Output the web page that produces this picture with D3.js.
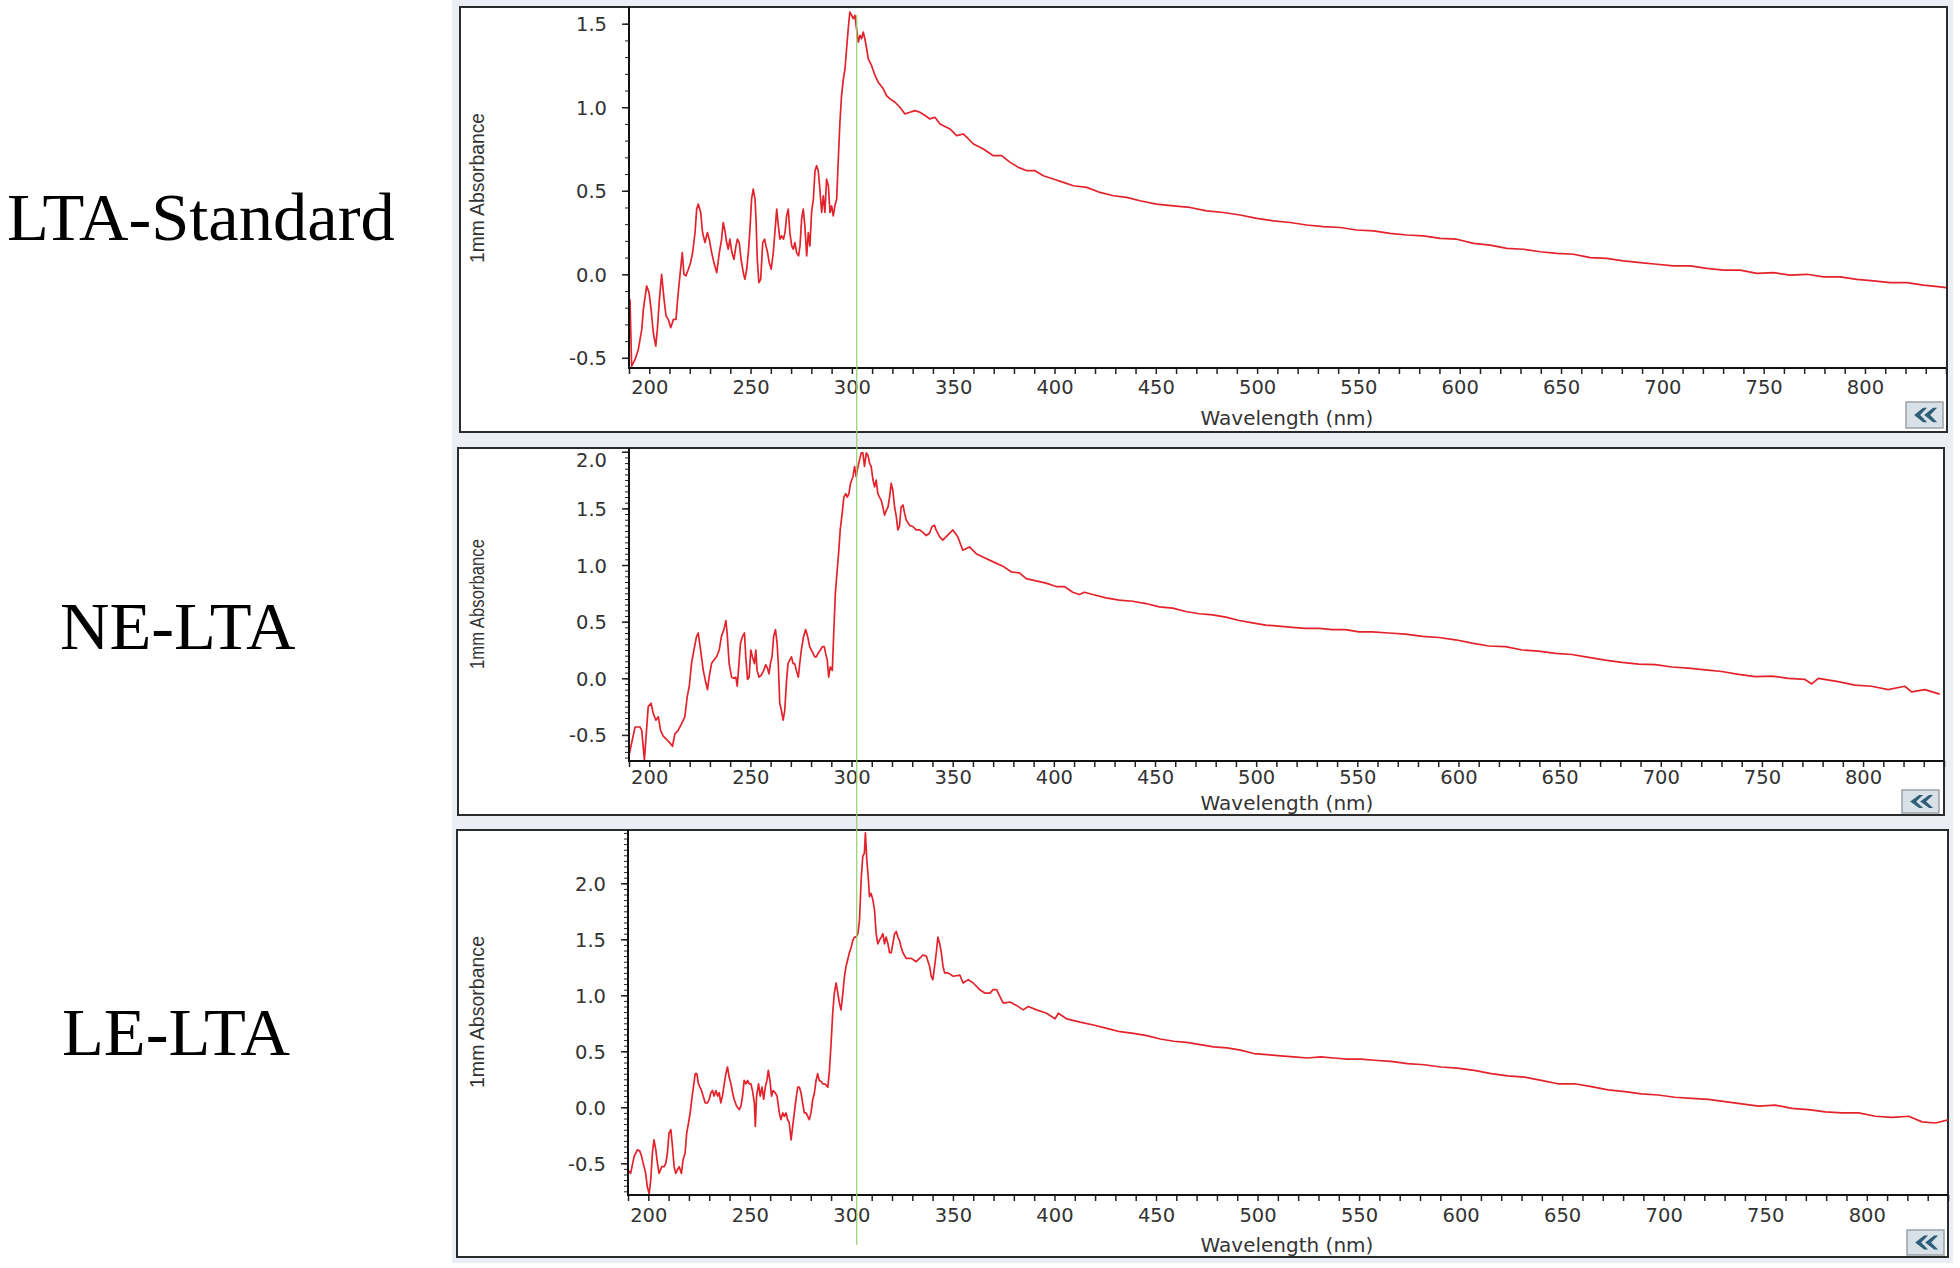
<!DOCTYPE html>
<html>
<head>
<meta charset="utf-8">
<script src="https://cdn.jsdelivr.net/npm/d3@7"></script>
<style>
  body { margin: 0; background: #fff; }
  .tick text { font-family: 'DejaVu Sans', sans-serif; fill: #333; }
</style>
</head>
<body>
<div id="chart"></div>
<script>
// spectra: wavelength (nm) and 1 mm absorbance
var sampleNames = ['LTA-Standard', 'NE-LTA', 'LE-LTA'];

var wlStd = [190.5,191.3,193.0,194.6,196.3,197.1,198.7,199.9,200.9,202.0,203.2,204.0,205.0,206.1,207.3,208.3,209.4,210.6,211.9,213.2,214.0,215.2,216.3,217.1,218.1,219.3,220.4,221.4,222.6,223.4,224.2,225.4,226.3,227.5,228.7,229.6,230.8,231.9,233.3,234.6,235.7,236.5,237.5,238.2,239.0,239.8,240.8,241.8,242.8,243.5,244.4,245.3,246.4,247.2,248.1,248.9,249.7,250.5,251.3,252.2,252.7,253.3,254.1,255.0,256.0,256.9,257.6,258.4,259.2,260.2,261.2,262.0,262.9,263.7,264.5,265.3,266.2,267.0,267.8,268.6,269.4,270.3,271.1,271.9,272.7,273.7,274.4,275.2,276.0,276.8,277.7,278.5,279.3,280.1,281.0,281.8,282.6,283.4,284.2,285.1,285.9,286.7,287.5,288.4,289.2,290.0,290.8,291.6,292.5,293.3,294.1,294.9,295.8,296.6,297.4,298.2,299.0,299.9,300.7,301.5,302.3,303.2,304.0,304.8,305.6,306.4,307.3,308.1,308.9,309.7,311.4,313.0,315.5,317.1,318.8,321.3,323.7,326.2,328.7,331.1,333.6,336.1,338.5,341.0,343.5,348.4,351.7,355.0,360.0,364.9,369.8,373.9,378.1,382.2,386.3,390.4,394.5,399.4,404.4,409.3,415.9,422.5,429.1,435.6,442.2,450.4,458.7,466.9,475.1,483.3,491.6,499.8,508.0,516.3,524.5,532.7,541.0,549.2,557.4,565.6,573.8,582.1,590.3,598.5,606.8,615.0,623.2,631.5,639.7,647.9,656.1,664.4,672.6,680.8,689.1,697.3,705.5,713.7,722.0,730.2,738.4,746.7,754.9,763.1,771.3,779.6,787.8,796.0,804.2,812.5,820.7,828.9,837.1,840.4];
var absStd = [-0.15,-0.55,-0.51,-0.45,-0.33,-0.21,-0.07,-0.11,-0.21,-0.35,-0.43,-0.33,-0.15,0.0,-0.15,-0.25,-0.27,-0.32,-0.27,-0.27,-0.15,0.0,0.13,0.0,-0.01,0.03,0.07,0.13,0.25,0.39,0.42,0.37,0.25,0.19,0.25,0.21,0.13,0.07,0.01,0.13,0.21,0.31,0.25,0.19,0.15,0.21,0.13,0.09,0.17,0.21,0.19,0.09,0.01,-0.03,0.03,0.13,0.27,0.45,0.51,0.45,0.33,0.09,-0.05,-0.03,0.19,0.21,0.17,0.13,0.07,0.03,0.13,0.25,0.39,0.29,0.21,0.23,0.21,0.25,0.35,0.39,0.25,0.17,0.15,0.19,0.13,0.11,0.17,0.33,0.39,0.29,0.11,0.25,0.17,0.37,0.45,0.62,0.65,0.62,0.51,0.37,0.47,0.37,0.57,0.53,0.37,0.41,0.35,0.41,0.45,0.69,0.91,1.07,1.17,1.23,1.35,1.47,1.57,1.55,1.53,1.55,1.47,1.39,1.43,1.41,1.45,1.41,1.35,1.29,1.27,1.25,1.19,1.15,1.11,1.07,1.05,1.03,1.00,0.96,0.97,0.98,0.97,0.95,0.93,0.94,0.90,0.87,0.83,0.84,0.78,0.75,0.71,0.71,0.67,0.64,0.62,0.62,0.59,0.57,0.55,0.53,0.52,0.49,0.47,0.46,0.44,0.42,0.41,0.40,0.38,0.37,0.355,0.335,0.32,0.31,0.295,0.285,0.28,0.265,0.26,0.245,0.235,0.23,0.215,0.21,0.185,0.175,0.155,0.15,0.135,0.125,0.12,0.10,0.095,0.08,0.07,0.06,0.05,0.05,0.035,0.025,0.025,0.005,0.01,-0.005,0.0,-0.015,-0.015,-0.03,-0.04,-0.05,-0.05,-0.065,-0.075,-0.08];

var wlNE = [190.0,193.0,195.4,196.3,197.6,199.5,200.9,202.0,203.3,204.5,205.6,206.9,208.6,210.2,211.5,212.7,214.3,216.0,217.6,218.8,219.8,220.9,222.1,223.4,224.2,225.4,226.7,228.0,228.8,229.6,230.8,231.9,233.3,234.6,235.7,236.9,237.9,238.5,239.5,240.7,241.8,242.8,243.5,244.1,245.1,246.1,247.1,247.7,248.6,249.4,250.2,251.0,252.0,252.7,253.3,254.3,255.5,256.6,257.6,258.4,259.2,259.9,260.7,261.5,262.4,263.2,263.8,264.5,265.3,266.2,267.0,267.8,268.6,269.4,270.3,271.1,271.9,272.7,273.7,274.4,275.2,276.3,277.3,278.3,279.3,280.1,281.0,281.8,282.6,283.4,284.6,285.6,286.5,287.2,288.0,288.7,289.5,290.5,291.2,292.0,292.8,293.6,294.4,295.4,296.2,297.1,297.9,298.7,299.5,300.7,301.5,302.3,303.2,304.0,304.8,305.6,306.4,307.3,308.1,308.9,309.7,310.6,311.4,312.2,313.0,313.8,314.7,315.5,316.3,317.1,318.0,318.8,319.6,320.4,321.3,322.1,322.9,323.7,324.5,325.4,326.2,327.0,328.7,330.3,331.9,333.6,335.2,336.9,338.5,339.8,341.0,341.8,343.5,345.1,348.4,350.1,352.5,355.0,358.3,361.6,364.9,369.8,374.8,378.9,383.0,386.3,391.2,396.1,401.1,405.2,409.3,412.6,415.1,419.2,425.8,432.3,438.9,445.5,452.1,458.7,465.2,471.8,478.4,485.0,491.6,498.2,504.7,511.3,517.9,524.5,531.1,537.6,544.2,550.8,557.4,565.6,573.8,582.1,590.3,598.5,606.8,615.0,623.2,631.5,639.7,647.9,656.1,664.4,672.6,680.8,689.1,697.3,705.5,713.7,722.0,730.2,738.4,746.7,754.9,763.1,771.3,774.6,777.9,787.7,796.0,804.2,812.4,820.6,824.0,830.5,837.9];
var absNE = [-0.68,-0.43,-0.43,-0.46,-0.72,-0.25,-0.22,-0.31,-0.37,-0.34,-0.46,-0.51,-0.54,-0.57,-0.60,-0.49,-0.46,-0.40,-0.34,-0.16,-0.07,0.13,0.25,0.37,0.40,0.25,0.07,-0.04,-0.10,0.01,0.13,0.16,0.19,0.25,0.37,0.43,0.51,0.40,0.13,0.01,0.0,0.01,-0.07,0.07,0.31,0.37,0.40,0.19,-0.01,0.01,0.25,0.19,0.13,0.25,0.07,0.01,0.03,0.07,0.12,0.09,0.04,0.13,0.19,0.37,0.43,0.31,0.13,-0.22,-0.28,-0.37,-0.28,-0.04,0.13,0.16,0.19,0.13,0.13,0.07,0.01,0.13,0.25,0.37,0.43,0.37,0.28,0.25,0.22,0.19,0.19,0.22,0.25,0.28,0.28,0.22,0.16,0.01,0.10,0.07,0.40,0.75,0.93,1.10,1.31,1.46,1.60,1.63,1.60,1.63,1.72,1.78,1.87,1.78,1.87,1.93,1.99,1.99,1.87,1.99,1.97,1.90,1.87,1.75,1.69,1.75,1.63,1.60,1.57,1.51,1.44,1.48,1.51,1.60,1.72,1.66,1.51,1.43,1.31,1.34,1.51,1.53,1.46,1.40,1.35,1.34,1.31,1.31,1.29,1.26,1.28,1.34,1.35,1.31,1.25,1.22,1.28,1.31,1.25,1.13,1.16,1.10,1.07,1.03,0.99,0.94,0.93,0.88,0.86,0.84,0.81,0.81,0.76,0.74,0.76,0.74,0.71,0.69,0.68,0.66,0.63,0.62,0.59,0.57,0.56,0.54,0.51,0.49,0.47,0.46,0.45,0.44,0.44,0.43,0.43,0.41,0.41,0.40,0.39,0.37,0.36,0.34,0.31,0.285,0.28,0.25,0.24,0.22,0.21,0.185,0.16,0.14,0.125,0.12,0.10,0.09,0.075,0.06,0.035,0.015,0.02,0.0,-0.01,-0.05,0.0,-0.03,-0.06,-0.07,-0.10,-0.07,-0.12,-0.10,-0.14];

var wlLE = [190.0,191.3,193.0,194.6,195.8,196.7,197.9,198.7,199.5,200.4,201.2,202.0,202.8,203.7,204.5,205.3,206.6,207.8,208.6,209.4,210.2,211.1,211.9,212.7,213.5,214.3,215.2,216.3,217.1,218.1,218.9,219.8,220.6,221.4,222.2,223.1,223.9,224.7,225.4,226.2,227.0,228.0,229.1,230.0,230.8,231.6,232.4,233.3,234.1,234.9,235.7,236.5,237.4,238.2,239.0,239.8,240.7,241.5,242.3,243.5,244.8,245.6,246.4,247.2,248.1,248.9,249.7,250.5,251.3,252.2,252.7,253.3,254.3,255.1,256.0,256.8,257.6,258.4,259.1,259.9,260.7,261.5,262.5,263.4,264.5,265.3,266.2,267.0,267.8,268.6,269.4,270.3,271.1,271.9,272.7,273.6,274.4,275.2,276.0,276.8,277.7,278.5,279.3,280.1,281.0,281.8,282.6,283.4,284.2,285.1,285.9,286.7,287.5,288.4,289.2,290.0,290.8,291.6,292.5,293.3,294.1,294.9,295.8,296.6,297.4,298.2,299.0,299.9,300.7,301.5,302.3,303.2,304.0,304.8,305.6,306.4,306.9,307.6,308.4,308.9,309.7,310.6,311.4,312.2,313.0,313.8,314.7,315.5,316.3,317.1,318.0,318.8,319.6,320.4,321.3,322.1,322.9,323.7,324.5,325.4,327.0,329.5,331.9,333.6,335.2,336.9,338.5,339.3,340.1,341.0,341.8,342.6,343.5,344.3,345.1,345.9,347.6,350.1,353.4,355.0,357.5,360.0,363.2,365.7,368.2,369.8,371.5,373.1,374.8,378.1,381.3,384.6,387.1,391.2,396.1,400.3,401.9,406.0,412.6,419.2,425.8,432.3,438.9,445.5,452.1,458.7,465.2,471.8,478.4,485.0,491.6,498.2,504.7,511.3,517.9,524.5,531.1,537.6,544.2,550.8,557.4,565.6,573.8,582.1,590.3,598.5,606.8,615.0,623.2,631.5,639.7,647.9,656.1,664.4,672.6,680.8,689.1,697.3,705.5,713.7,722.0,730.2,738.4,746.7,754.9,763.1,771.3,779.6,787.8,796.0,804.2,812.5,820.7,827.2,833.8,840.4];
var absLE = [-0.56,-0.59,-0.44,-0.38,-0.39,-0.44,-0.53,-0.59,-0.71,-0.77,-0.65,-0.41,-0.29,-0.38,-0.50,-0.59,-0.53,-0.53,-0.50,-0.41,-0.23,-0.20,-0.35,-0.53,-0.59,-0.56,-0.53,-0.59,-0.47,-0.41,-0.23,-0.14,-0.05,0.07,0.18,0.30,0.30,0.21,0.18,0.15,0.10,0.04,0.04,0.07,0.13,0.15,0.10,0.15,0.10,0.13,0.04,0.10,0.21,0.30,0.36,0.27,0.21,0.13,0.07,0.01,-0.02,0.01,0.10,0.24,0.21,0.24,0.21,0.21,0.15,0.04,-0.17,0.10,0.21,0.10,0.18,0.07,0.18,0.24,0.33,0.24,0.10,0.15,0.13,0.10,-0.05,-0.11,-0.05,-0.08,-0.05,-0.11,-0.14,-0.29,-0.17,-0.05,0.07,0.18,0.18,0.13,0.04,-0.05,-0.05,-0.08,-0.11,-0.05,0.07,0.13,0.24,0.30,0.24,0.23,0.21,0.21,0.20,0.18,0.33,0.57,0.84,1.02,1.11,1.02,0.93,0.87,1.02,1.17,1.26,1.32,1.38,1.43,1.49,1.52,1.52,1.55,1.67,2.03,2.24,2.27,2.45,2.21,2.03,1.88,1.91,1.85,1.76,1.55,1.46,1.49,1.52,1.55,1.46,1.52,1.46,1.38,1.38,1.46,1.55,1.57,1.52,1.49,1.43,1.38,1.33,1.33,1.30,1.33,1.36,1.35,1.26,1.17,1.14,1.26,1.38,1.52,1.46,1.38,1.26,1.20,1.20,1.17,1.18,1.11,1.14,1.11,1.05,1.02,1.02,1.05,1.05,0.99,0.93,0.94,0.91,0.87,0.90,0.87,0.84,0.79,0.84,0.79,0.76,0.735,0.705,0.675,0.66,0.64,0.61,0.59,0.58,0.56,0.54,0.53,0.51,0.48,0.47,0.46,0.45,0.44,0.45,0.44,0.43,0.43,0.42,0.41,0.39,0.38,0.36,0.35,0.33,0.30,0.28,0.27,0.24,0.21,0.21,0.185,0.155,0.14,0.12,0.11,0.09,0.08,0.07,0.05,0.03,0.01,0.02,-0.01,-0.02,-0.04,-0.05,-0.05,-0.08,-0.09,-0.08,-0.13,-0.14,-0.11];

var wlDomain = [190, 840];
var xTicks = d3.range(190, 841, 10);
var yTicksStd = [-0.5, 0.0, 0.5, 1.0, 1.5];
var yTicksNE = [-0.5, 0.0, 0.5, 1.0, 1.5, 2.0];
var yTicksLE = [-0.5, 0.0, 0.5, 1.0, 1.5, 2.0];
var markerWl = 302.4;

// panel placement (pixels)
var panels = [
  { name: sampleNames[0], wl: wlStd, abs: absStd, ticks: yTicksStd, minorStep: 0.1,
    yDomain: [-0.561, 1.60], frame: [460, 7, 1947, 432], plot: [629, 7, 1946, 368],
    labelX: 7, labelY: 240, titleLen: 150, titleCy: 188, xPad: 6.5, wlTitleY: 425, btn: [1906, 402, 37, 26] },
  { name: sampleNames[1], wl: wlNE, abs: absNE, ticks: yTicksNE, minorStep: 0.05,
    yDomain: [-0.73, 2.033], frame: [458, 448, 1944, 815], plot: [629, 448, 1944, 761],
    labelX: 60, labelY: 649, titleLen: 130, titleCy: 604, xPad: 3.5, wlTitleY: 810, btn: [1902, 790, 37, 23] },
  { name: sampleNames[2], wl: wlLE, abs: absLE, ticks: yTicksLE, minorStep: 0.05,
    yDomain: [-0.783, 2.476], frame: [457, 830, 1948, 1257], plot: [628, 830, 1948, 1195],
    labelX: 62, labelY: 1055, titleLen: 152, titleCy: 1012, xPad: 7.5, wlTitleY: 1252, btn: [1907, 1230, 37, 25] }
];

var svg = d3.select('#chart').append('svg')
  .attr('width', 1960).attr('height', 1268);

// light window background behind the three plot panes
svg.append('rect')
  .attr('x', 452).attr('y', 0).attr('width', 1501).attr('height', 1263)
  .attr('fill', '#eceef6');

var x = d3.scaleLinear().domain(wlDomain);

panels.forEach(function(p, i) {
  var f = p.frame;
  var left = p.plot[0], top = p.plot[1], right = p.plot[2], bottom = p.plot[3];

  svg.append('rect')
    .attr('x', f[0]).attr('y', f[1])
    .attr('width', f[2] - f[0]).attr('height', f[3] - f[1])
    .attr('fill', '#fff').attr('stroke', '#2b2b2b').attr('stroke-width', 2);

  svg.append('text')
    .attr('x', p.labelX).attr('y', p.labelY)
    .style('font-family', "'Liberation Serif', 'Times New Roman', serif")
    .style('font-size', '68.5px').attr('fill', '#000')
    .text(p.name);

  var xs = x.copy().range([left, right]);
  var y = d3.scaleLinear().domain(p.yDomain).range([bottom, top]);

  var g = svg.append('g');

  // minor y ticks
  var minor = d3.range(Math.ceil(p.yDomain[0] / p.minorStep) * p.minorStep, p.yDomain[1], p.minorStep);
  g.append('g')
    .attr('transform', 'translate(' + left + ',0)')
    .call(d3.axisLeft(y).tickValues(minor).tickSize(4).tickSizeOuter(0).tickFormat(''))
    .call(function(a) { a.select('.domain').remove(); a.selectAll('line').attr('stroke', '#222'); });

  // major y ticks with labels
  var yAxis = g.append('g')
    .attr('transform', 'translate(' + left + ',0)')
    .call(d3.axisLeft(y).tickValues(p.ticks).tickSize(7).tickSizeOuter(0).tickPadding(15)
      .tickFormat(function(d) { return d.toFixed(1); }));
  yAxis.select('.domain').remove();
  yAxis.selectAll('line').attr('stroke', '#222').attr('stroke-width', 1.5);
  yAxis.selectAll('text').style('font-size', '19.5px')
    .attr('dy', function(d) { return y(d) < top + 8 ? '0.75em' : '0.36em'; });

  // x ticks every 10 nm, labelled every 50 nm
  var xAxis = g.append('g')
    .attr('transform', 'translate(0,' + bottom + ')')
    .call(d3.axisBottom(xs).tickValues(xTicks).tickSize(6).tickSizeOuter(0).tickPadding(p.xPad)
      .tickFormat(function(d) { return d % 50 === 0 ? d : ''; }));
  xAxis.select('.domain').remove();
  xAxis.selectAll('line').attr('stroke', '#222').attr('stroke-width', 1.5);
  xAxis.selectAll('text').style('font-size', '19.5px');

  // axis lines
  g.append('line').attr('x1', left).attr('x2', left).attr('y1', top).attr('y2', bottom + 1)
    .attr('stroke', '#111').attr('stroke-width', 2);
  g.append('line').attr('x1', left - 1).attr('x2', right).attr('y1', bottom).attr('y2', bottom)
    .attr('stroke', '#111').attr('stroke-width', 2);

  // titles
  svg.append('text')
    .attr('transform', 'translate(484,' + p.titleCy + ') rotate(-90)')
    .attr('text-anchor', 'middle')
    .attr('textLength', p.titleLen).attr('lengthAdjust', 'spacingAndGlyphs')
    .style('font-family', "'Liberation Sans', Arial, sans-serif")
    .style('font-size', '21px').attr('fill', '#333')
    .text('1mm Absorbance');

  svg.append('text')
    .attr('x', 1287).attr('y', p.wlTitleY)
    .attr('text-anchor', 'middle')
    .style('font-family', "'DejaVu Sans', sans-serif")
    .style('font-size', '20px').attr('fill', '#333')
    .text('Wavelength (nm)');

  // spectrum
  svg.append('clipPath').attr('id', 'clip' + i)
    .append('rect').attr('x', left + 1).attr('y', top).attr('width', right - left - 1).attr('height', bottom - top - 1);

  var line = d3.line()
    .x(function(d) { return xs(d[0]); })
    .y(function(d) { return y(d[1]); });

  svg.append('path')
    .datum(d3.zip(p.wl, p.abs))
    .attr('clip-path', 'url(#clip' + i + ')')
    .attr('fill', 'none')
    .attr('stroke', '#e3232b')
    .attr('stroke-width', 1.7)
    .attr('stroke-linejoin', 'round')
    .attr('d', line);

  // collapse button
  var b = p.btn;
  var btn = svg.append('g').attr('transform', 'translate(' + b[0] + ',' + b[1] + ')');
  btn.append('rect').attr('width', b[2]).attr('height', b[3])
    .attr('fill', '#d8e1e8').attr('stroke', '#9aa2a8').attr('stroke-width', 1.5);
  [0, 10].forEach(function(off) {
    var cx = b[2] * 0.22 + off, h = b[3];
    btn.append('path')
      .attr('d', 'M' + (cx + 9) + ',' + (h * 0.22) + ' L' + cx + ',' + (h * 0.5) +
                 ' L' + (cx + 9) + ',' + (h * 0.78) + ' L' + (cx + 13) + ',' + (h * 0.78) +
                 ' L' + (cx + 6) + ',' + (h * 0.5) + ' L' + (cx + 13) + ',' + (h * 0.22) + 'Z')
      .attr('fill', '#2f5f78');
  });
});

// vertical cursor line running through the three panes
var xc = x.copy().range([629, 1946]);
svg.append('line')
  .attr('x1', xc(markerWl)).attr('x2', xc(markerWl))
  .attr('y1', 15).attr('y2', 1245)
  .attr('stroke', '#93cf6c').attr('stroke-width', 1.2);
</script>
</body>
</html>
